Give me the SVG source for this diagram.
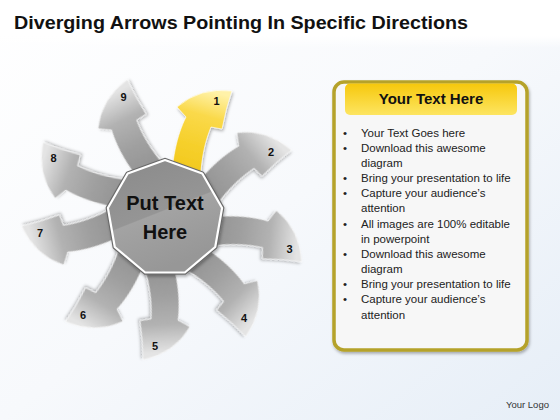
<svg xmlns="http://www.w3.org/2000/svg" width="560" height="420" viewBox="0 0 560 420">
  <defs>
    <linearGradient id="bg" x1="0" y1="0" x2="1" y2="1">
      <stop offset="0" stop-color="#ffffff"/>
      <stop offset="0.5" stop-color="#f7f9fc"/>
      <stop offset="1" stop-color="#e6eef7"/>
    </linearGradient>
    <linearGradient id="band" x1="0" y1="0" x2="0" y2="1">
      <stop offset="0" stop-color="#ffffff"/>
      <stop offset="0.75" stop-color="#ffffff"/>
      <stop offset="1" stop-color="#ffffff" stop-opacity="0"/>
    </linearGradient>
    <linearGradient id="gray" gradientUnits="userSpaceOnUse" x1="186" y1="190" x2="214" y2="92">
      <stop offset="0" stop-color="#8c8c8c"/>
      <stop offset="0.45" stop-color="#a0a0a0"/>
      <stop offset="0.72" stop-color="#b2b2b2"/>
      <stop offset="1" stop-color="#e4e4e4"/>
    </linearGradient>
    <linearGradient id="yellow" gradientUnits="userSpaceOnUse" x1="186" y1="190" x2="214" y2="92">
      <stop offset="0" stop-color="#f0c414"/>
      <stop offset="0.45" stop-color="#f6d02c"/>
      <stop offset="0.75" stop-color="#fad94a"/>
      <stop offset="1" stop-color="#fff2a8"/>
    </linearGradient>
    <linearGradient id="hub" x1="0" y1="0" x2="0.4" y2="1">
      <stop offset="0" stop-color="#8a8a8a"/>
      <stop offset="0.55" stop-color="#959595"/>
      <stop offset="0.56" stop-color="#a3a3a3"/>
      <stop offset="1" stop-color="#979797"/>
    </linearGradient>
    <linearGradient id="head" x1="0" y1="0" x2="0" y2="1">
      <stop offset="0" stop-color="#f6c80c"/>
      <stop offset="1" stop-color="#fde561"/>
    </linearGradient>
    <filter id="sh" x="-20%" y="-20%" width="140%" height="140%">
      <feDropShadow dx="1" dy="2" stdDeviation="1.6" flood-color="#000" flood-opacity="0.3"/>
    </filter>
    <path id="arr" d="M 171,196 C 171,160 177,135 186,117 L 177,107 Q 200,87 232,91 Q 226,108 222,129 L 211,127 C 205,142 200,160 200,196 Z"/>
  </defs>
  <style>
    .t{font-family:"Liberation Sans",Arial,sans-serif;}
    .num{font-family:"Liberation Sans",Arial,sans-serif;font-weight:bold;font-size:11px;fill:#111;text-anchor:middle;}
    .li{font-family:"Liberation Sans",Arial,sans-serif;font-size:11.5px;fill:#222;}
    .ar{stroke:#ffffff;stroke-opacity:0.75;stroke-width:0.8;filter:url(#sh);}
  </style>

  <rect x="0" y="0" width="560" height="420" fill="url(#bg)"/>
  <rect x="0" y="0" width="560" height="48" fill="url(#band)"/>

  <text class="t" x="14" y="28.5" font-size="17.5" font-weight="bold" fill="#111" textLength="454" lengthAdjust="spacingAndGlyphs">Diverging Arrows Pointing In Specific Directions</text>

  <g id="arrows">
    <g id="arrow-2" transform="rotate(34 165 218)"><use href="#arr" class="ar" fill="url(#gray)"/></g>
    <g id="arrow-3" transform="rotate(80 165 218)"><use href="#arr" class="ar" fill="url(#gray)"/></g>
    <g id="arrow-4" transform="rotate(118 165 218)"><use href="#arr" class="ar" fill="url(#gray)"/></g>
    <g id="arrow-5" transform="rotate(161 165 218)"><use href="#arr" class="ar" fill="url(#gray)"/></g>
    <g id="arrow-6" transform="rotate(196 165 218)"><use href="#arr" class="ar" fill="url(#gray)"/></g>
    <g id="arrow-7" transform="rotate(239 165 218)"><use href="#arr" class="ar" fill="url(#gray)"/></g>
    <g id="arrow-8" transform="rotate(274 165 218)"><use href="#arr" class="ar" fill="url(#gray)"/></g>
    <g id="arrow-9" transform="rotate(317 165 218)"><use href="#arr" class="ar" fill="url(#gray)"/></g>
    <g id="arrow-1"><use href="#arr" class="ar" fill="url(#yellow)"/></g>
  </g>

  <g id="labels">
    <text class="num" x="216.5" y="104.5">1</text>
    <text class="num" x="271" y="155.5">2</text>
    <text class="num" x="289.5" y="252.5">3</text>
    <text class="num" x="244" y="321.5">4</text>
    <text class="num" x="155" y="350">5</text>
    <text class="num" x="83" y="319">6</text>
    <text class="num" x="40" y="237">7</text>
    <text class="num" x="53.5" y="162">8</text>
    <text class="num" x="123.5" y="100.5">9</text>
  </g>

  <g id="center">
    <polygon points="165,160 202.28,173.57 222.12,207.93 215.23,247 184.84,272.5 145.16,272.5 114.77,247 107.88,207.93 127.72,173.57" fill="url(#hub)" stroke="#6a6a6a" stroke-width="4.5" stroke-linejoin="round" filter="url(#sh)"/>
    <polygon points="165,160 202.28,173.57 222.12,207.93 215.23,247 184.84,272.5 145.16,272.5 114.77,247 107.88,207.93 127.72,173.57" fill="url(#hub)" stroke="#ffffff" stroke-width="2.2" stroke-linejoin="round"/>
    <text class="t" x="165" y="210" font-size="20" font-weight="bold" fill="#111" text-anchor="middle">Put Text</text>
    <text class="t" x="165" y="239" font-size="20" font-weight="bold" fill="#111" text-anchor="middle">Here</text>
  </g>

  <g id="panel">
    <rect x="334" y="82" width="193" height="268" rx="10" fill="#f7f7f7" stroke="#b5a22a" stroke-width="3.5" filter="url(#sh)"/>
    <rect x="345" y="83.5" width="172" height="31.5" rx="5" fill="url(#head)"/>
    <text class="t" x="431" y="103.5" font-size="15" font-weight="bold" fill="#111" text-anchor="middle">Your Text Here</text>
    <g class="li">
      <text x="343" y="136.5">•</text><text x="361" y="136.5">Your Text Goes here</text>
      <text x="343" y="151.7">•</text><text x="361" y="151.7">Download this awesome</text>
      <text x="361" y="166.8">diagram</text>
      <text x="343" y="182">•</text><text x="361" y="182">Bring your presentation to life</text>
      <text x="343" y="197.2">•</text><text x="361" y="197.2">Capture your audience’s</text>
      <text x="361" y="212.3">attention</text>
      <text x="343" y="227.5">•</text><text x="361" y="227.5">All images are 100% editable</text>
      <text x="361" y="242.7">in powerpoint</text>
      <text x="343" y="257.9">•</text><text x="361" y="257.9">Download this awesome</text>
      <text x="361" y="273">diagram</text>
      <text x="343" y="288.2">•</text><text x="361" y="288.2">Bring your presentation to life</text>
      <text x="343" y="303.4">•</text><text x="361" y="303.4">Capture your audience’s</text>
      <text x="361" y="318.5">attention</text>
    </g>
  </g>

  <text class="t" x="506" y="408" font-size="9.5" fill="#333">Your Logo</text>
</svg>
